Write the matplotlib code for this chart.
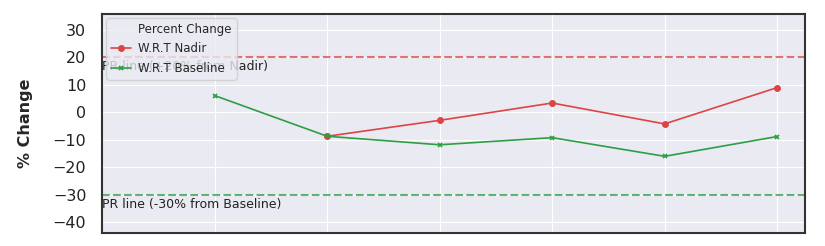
import matplotlib
matplotlib.use('Agg')
import matplotlib.pyplot as plt
import seaborn as sns
import numpy as np

sns.set_style('darkgrid')

# visit index (x), values in percent
visits = [0, 1, 2, 3, 4, 5]
nadir_x = [1, 2, 3, 4, 5]
nadir_pct = [-8.8, -3.0, 3.3, -4.3, 8.9]
baseline_pct = [6.0, -8.8, -11.9, -9.3, -16.1, -8.9]

pr_nadir = 20
pr_baseline = -30

red = '#dd4545'
green = '#2e9e44'

fig = plt.figure(figsize=(8.25, 2.46), dpi=100)
ax1 = fig.add_axes([0.124, 0.053, 0.852, 0.89])

# blank entry acts as the legend heading (old seaborn style)
ax1.plot([], [], ' ', label='Percent Change')
ax1.plot(nadir_x, nadir_pct, label='W.R.T Nadir', color=red, marker='o',
         markersize=4, linewidth=1.2)
ax1.plot(visits, baseline_pct, label='W.R.T Baseline', color=green, marker='x',
         markersize=3.5, markeredgewidth=1.2, linewidth=1.2)

ax1.axhline(pr_nadir, color=red, linestyle='--', linewidth=1.5, alpha=0.75)
ax1.axhline(pr_baseline, color=green, linestyle='--', linewidth=1.5, alpha=0.75)

ax1.text(-1, pr_nadir - 1.2, 'PR line (+20% from Nadir)', va='top', ha='left',
         fontsize=9, color='#222222')
ax1.text(-1, pr_baseline - 1.2, 'PR line (-30% from Baseline)', va='top', ha='left',
         fontsize=9, color='#222222')

ax1.set_xlim(-1, 5.25)
ax1.set_ylim(-44, 35.7)
ax1.set_xticks(visits)
ax1.set_xticklabels([])
ax1.set_yticks([30, 20, 10, 0, -10, -20, -30, -40])
ax1.tick_params(axis='y', labelsize=11.5, colors='#222222', pad=8)

for s in ax1.spines.values():
    s.set_visible(True)
    s.set_color('#333333')
    s.set_linewidth(1.5)

ax1.set_ylabel('% Change', fontsize=11.5, fontweight='bold', labelpad=14)

leg = ax1.legend(loc='upper left', fontsize=8.5, framealpha=0.8,
                 borderaxespad=0.35, labelspacing=0.55, handlelength=1.7,
                 handletextpad=0.6)

plt.savefig('out.png', dpi=100)
